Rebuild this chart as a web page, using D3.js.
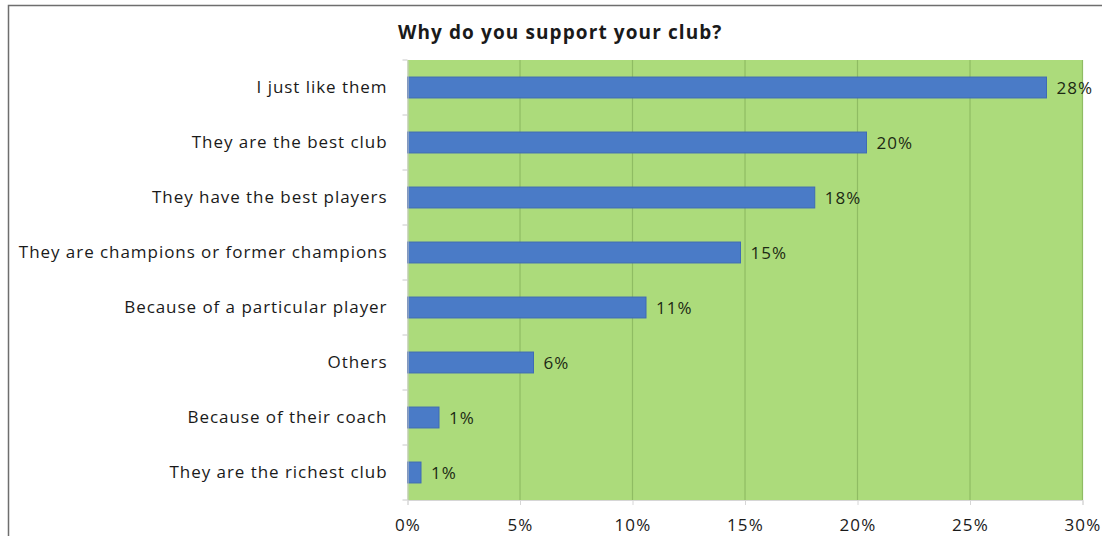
<!DOCTYPE html>
<html>
<head>
<meta charset="utf-8">
<script src="https://cdn.jsdelivr.net/npm/d3@7"></script>
<style>
  html, body { margin: 0; padding: 0; background: #ffffff; }
  svg { display: block; }
  text { font-family: "Open Sans", "Noto Sans", sans-serif; fill: #1a1a1a; }
</style>
</head>
<body>
<svg id="chart" width="1106" height="536"></svg>
<script>
// Survey answers, top to bottom
const categories = [
  "I just like them",
  "They are the best club",
  "They have the best players",
  "They are champions or former champions",
  "Because of a particular player",
  "Others",
  "Because of their coach",
  "They are the richest club"
];
// Share of respondents (%)
const shares = [28.4, 20.4, 18.1, 14.8, 10.6, 5.6, 1.4, 0.6];
const tickValues = [0, 5, 10, 15, 20, 25, 30];
const title = "Why do you support your club?";

const W = 1106, H = 536;
const plot = { left: 407.5, right: 1082.5, top: 60, bottom: 500 };

const svg = d3.select("#chart");

// Outer chart frame (top and left edges visible)
svg.append("path")
  .attr("d", `M8.5,${H + 2} V5.5 H1102`)
  .attr("fill", "none")
  .attr("stroke", "#6e6e6e")
  .attr("stroke-width", 1.5);

const x = d3.scaleLinear().domain([0, 30]).range([plot.left, plot.right]);
const y = d3.scaleBand().domain(categories).range([plot.top, plot.bottom]).paddingInner(0.62).paddingOuter(0.31);

// Plot area background
svg.append("rect")
  .attr("x", plot.left).attr("y", plot.top)
  .attr("width", plot.right - plot.left).attr("height", plot.bottom - plot.top)
  .attr("fill", "#acdb7b");

// Vertical gridlines
svg.append("g")
  .selectAll("line")
  .data(tickValues.filter(d => d > 0))
  .join("line")
  .attr("x1", d => x(d)).attr("x2", d => x(d))
  .attr("y1", plot.top).attr("y2", plot.bottom)
  .attr("stroke", "#8fbc63")
  .attr("stroke-width", 1.2);

// Bars
svg.append("g")
  .selectAll("rect")
  .data(categories)
  .join("rect")
  .attr("x", x(0))
  .attr("y", d => y(d))
  .attr("width", (d, i) => x(shares[i]) - x(0))
  .attr("height", y.bandwidth())
  .attr("fill", "#4a7bc7")
  .attr("stroke", "#3e6bb5")
  .attr("stroke-width", 1);

// Value labels
const fmt = d3.format(".0f");
svg.append("g")
  .selectAll("text")
  .data(categories)
  .join("text")
  .attr("x", (d, i) => x(shares[i]) + 10)
  .attr("y", d => y(d) + y.bandwidth() / 2)
  .attr("dy", "0.36em")
  .attr("font-size", 17)
  .attr("letter-spacing", 1)
  .style("fill", "#1c2a14")
  .text((d, i) => fmt(shares[i]) + "%");

// Category axis
const yAxis = svg.append("g")
  .attr("transform", `translate(${plot.left},0)`)
  .call(d3.axisLeft(y).tickSize(0).tickPadding(20));
yAxis.select(".domain").attr("stroke", "#c8c8c8");
yAxis.selectAll("text")
  .attr("font-size", 17)
  .attr("letter-spacing", 0.95)
  .attr("font-family", null);
// Small tick marks between categories
const step = y.step();
svg.append("g")
  .selectAll("line")
  .data(d3.range(categories.length + 1))
  .join("line")
  .attr("x1", plot.left - 5).attr("x2", plot.left)
  .attr("y1", i => plot.top + i * step).attr("y2", i => plot.top + i * step)
  .attr("stroke", "#c8c8c8");

// Value axis
const xAxis = svg.append("g")
  .attr("transform", `translate(0,${plot.bottom})`)
  .call(d3.axisBottom(x).tickValues(tickValues).tickFormat(d => d + "%").tickSize(5).tickPadding(14));
xAxis.select(".domain").attr("stroke", "#d6d6d6");
xAxis.selectAll(".tick line").attr("stroke", "#d6d6d6");
xAxis.selectAll("text")
  .attr("font-size", 17)
  .attr("letter-spacing", 1.2)
  .attr("font-family", null);

// Title
svg.append("text")
  .attr("x", 398)
  .attr("y", 39)
  .attr("font-size", 19)
  .attr("letter-spacing", 1.1)
  .attr("font-weight", "bold")
  .text(title);
</script>
</body>
</html>
